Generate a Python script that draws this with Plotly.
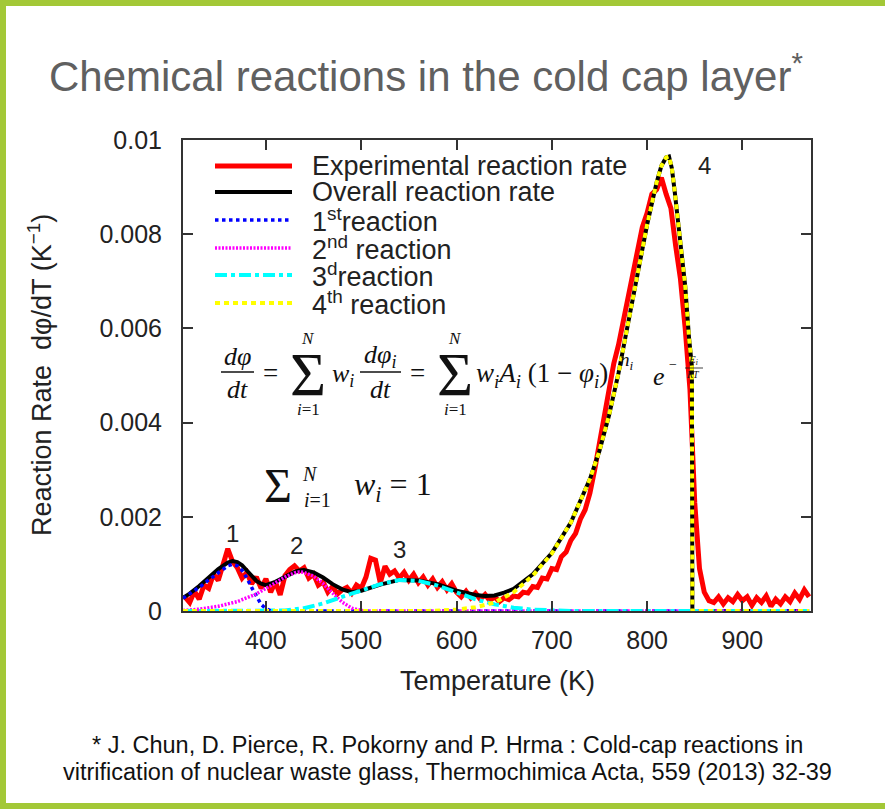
import plotly.graph_objects as go

# ---------------- data ----------------
T_exp = [315, 320, 325, 330, 335, 340, 345, 350, 355, 360, 365, 370, 375, 380, 385, 390, 395, 400,
         405, 410, 415, 420, 425, 430, 435, 440, 445, 450, 455, 460, 465, 470, 475, 480, 485, 490,
         495, 500, 505, 510, 515, 520, 525, 530, 535, 540, 545, 550, 555, 560, 565, 570, 575, 580,
         585, 590, 595, 600, 605, 610, 615, 620, 625, 630, 635, 640, 645, 650, 655, 660, 665, 670,
         675, 680, 685, 690, 695, 700, 705, 710, 715, 720, 725, 730, 735, 740, 745, 750, 755, 760,
         765, 770, 775, 780, 785, 790, 795, 800, 805, 810, 815, 820, 825, 830, 835, 840, 845, 850,
         855, 860, 865, 870, 875, 880, 885, 890, 895, 900, 905, 910, 915, 920, 925, 930, 935, 940,
         945, 950, 955, 960, 965, 970]
V_exp = [0.00030, 0.00018, 0.00042, 0.00025, 0.00055, 0.00048, 0.00078, 0.00065, 0.00098, 0.00132,
         0.00105, 0.00092, 0.00070, 0.00082, 0.00058, 0.00072, 0.00048, 0.00068, 0.00040, 0.00062,
         0.00034, 0.00075, 0.00088, 0.00096, 0.00085, 0.00092, 0.00070, 0.00078, 0.00055, 0.00062,
         0.00040, 0.00052, 0.00036, 0.00045, 0.00050, 0.00038, 0.00055, 0.00048, 0.00072, 0.00112,
         0.00108, 0.00060, 0.00095, 0.00078, 0.00085, 0.00070, 0.00082, 0.00065, 0.00078, 0.00060,
         0.00072, 0.00055, 0.00068, 0.00050, 0.00062, 0.00045, 0.00058, 0.00040, 0.00030, 0.00042,
         0.00028, 0.00038, 0.00025, 0.00035, 0.00022, 0.00030, 0.00020, 0.00028, 0.00024, 0.00032,
         0.00030, 0.00040, 0.00038, 0.00052, 0.00050, 0.00070, 0.00068, 0.00090, 0.00088, 0.00115,
         0.00125, 0.00150, 0.00165, 0.00195, 0.00215, 0.00250, 0.00300, 0.00360, 0.00420, 0.00470,
         0.00525, 0.00565, 0.00615, 0.00655, 0.00715, 0.00755, 0.00815, 0.00845, 0.00885, 0.00895,
         0.00920, 0.00885, 0.00855, 0.00775, 0.00705, 0.00600, 0.00470, 0.00230, 0.00090, 0.00040,
         0.00022, 0.00018, 0.00030, 0.00015, 0.00028, 0.00020, 0.00035, 0.00022, 0.00030, 0.00012,
         0.00028, 0.00018, 0.00032, 0.00010, 0.00025, 0.00015, 0.00030, 0.00020, 0.00038, 0.00025,
         0.00045, 0.00030]

T_all = [313, 320, 330, 340, 350, 360, 365, 370, 375, 380, 385, 390, 395, 400, 410, 420, 430, 435,
         440, 450, 460, 470, 480, 490, 500, 520, 540, 560, 580, 600, 620, 630, 640, 650, 660, 680,
         700, 720, 740, 750, 760, 770, 780, 790, 800, 805, 810, 815, 820, 823, 826, 829, 832, 835,
         840, 844, 847, 847.5, 970]
V_all = [0.00028, 0.00037, 0.00053, 0.00071, 0.00089, 0.00103, 0.00106, 0.00104, 0.00097, 0.00086,
         0.00074, 0.00064, 0.00058, 0.00055, 0.00062, 0.00073, 0.00083, 0.00086, 0.00087, 0.00082,
         0.00071, 0.00057, 0.00046, 0.00040, 0.00043, 0.00056, 0.00066, 0.00065, 0.00057, 0.00043,
         0.00034, 0.00032, 0.00033, 0.00039, 0.00047, 0.00078, 0.00123, 0.00188, 0.00280, 0.00340,
         0.00415, 0.00505, 0.00605, 0.00715, 0.00820, 0.00868, 0.00910, 0.00945, 0.00963, 0.00965,
         0.00940, 0.00890, 0.00840, 0.00790, 0.00690, 0.00580, 0.00520, 0.0, 0.0]

T_r1 = [313, 320, 330, 340, 350, 355, 360, 365, 370, 375, 380, 385, 390, 395, 400, 405, 410, 970]
V_r1 = [0.00027, 0.00036, 0.00050, 0.00066, 0.00082, 0.00090, 0.00096, 0.00099, 0.00096, 0.00086,
        0.00070, 0.00050, 0.00030, 0.00014, 0.00005, 0.00001, 0.0, 0.0]

T_r2 = [313, 330, 350, 370, 390, 400, 410, 420, 430, 435, 440, 450, 460, 470, 480, 490, 500, 510, 970]
V_r2 = [0.00001, 0.00004, 0.00010, 0.00020, 0.00036, 0.00047, 0.00060, 0.00072, 0.00081, 0.00083,
        0.00082, 0.00074, 0.00058, 0.00038, 0.00019, 0.00006, 0.00001, 0.0, 0.0]

T_r3 = [313, 420, 440, 460, 480, 500, 520, 540, 560, 580, 600, 620, 640, 660, 680, 700, 720, 970]
V_r3 = [0.0, 0.00001, 0.00006, 0.00016, 0.00030, 0.00044, 0.00057, 0.00066, 0.00064, 0.00054,
        0.00039, 0.00025, 0.00014, 0.00007, 0.00003, 0.00001, 0.0, 0.0]

T_r4 = [313, 570, 600, 620, 640, 660, 680, 700, 720, 740, 750, 760, 770, 780, 790, 800, 805, 810,
        815, 820, 823, 826, 829, 832, 835, 840, 844, 847, 847.5, 970]
V_r4 = [0.0, 0.0, 0.00003, 0.00008, 0.00018, 0.00040, 0.00075, 0.00122, 0.00188, 0.00280, 0.00340,
        0.00415, 0.00505, 0.00605, 0.00715, 0.00820, 0.00868, 0.00910, 0.00945, 0.00963, 0.00965,
        0.00940, 0.00890, 0.00840, 0.00790, 0.00690, 0.00580, 0.00520, 0.0, 0.0]

x_ticks = [400, 500, 600, 700, 800, 900]
y_ticks = [0, 0.002, 0.004, 0.006, 0.008, 0.01]
y_ticktext = ["0", "0.002", "0.004", "0.006", "0.008", "0.01"]

legend_names = ["Experimental reaction rate", "Overall reaction rate", "1<sup>st</sup>reaction",
                "2<sup>nd</sup> reaction", "3<sup>d</sup>reaction", "4<sup>th</sup> reaction"]

# ---------------- figure ----------------
W, H = 885, 809
L, R, T, B = 183, 811, 140, 611


def px(x):
    return (x - L) / (R - L)


def py(y):
    return (B - y) / (B - T)


styles = [
    dict(color="#ff0000", width=5, dash="solid"),
    dict(color="#000000", width=4, dash="solid"),
    dict(color="#0000ff", width=3.5, dash="dot"),
    dict(color="#ff00ff", width=3.5, dash="2px,1.5px"),
    dict(color="#00ffff", width=4, dash="dashdot"),
    dict(color="#ffff00", width=4, dash="5px,4px"),
]

fig = go.Figure()
fig.add_trace(go.Scatter(x=T_exp, y=V_exp, mode="lines", line=styles[0],
                         name=legend_names[0], showlegend=False))
fig.add_trace(go.Scatter(x=T_all, y=V_all, mode="lines", line=styles[1],
                         name=legend_names[1], showlegend=False))
fig.add_trace(go.Scatter(x=T_r1, y=V_r1, mode="lines", line=styles[2],
                         name=legend_names[2], showlegend=False))
fig.add_trace(go.Scatter(x=T_r2, y=V_r2, mode="lines", line=styles[3],
                         name=legend_names[3], showlegend=False))
fig.add_trace(go.Scatter(x=T_r3, y=V_r3, mode="lines", line=styles[4],
                         name=legend_names[4], showlegend=False))
fig.add_trace(go.Scatter(x=T_r4, y=V_r4, mode="lines", line=styles[5],
                         name=legend_names[5], showlegend=False))

shapes = []
annotations = []

# slide border
shapes.append(dict(type="rect", xref="paper", yref="paper", x0=px(3), x1=px(905), y0=py(3), y1=py(806),
                   line=dict(color="#a3c837", width=6), fillcolor="rgba(0,0,0,0)", layer="below"))

sans = "Liberation Sans, Arial"
serif = "Liberation Serif, Times New Roman"

# manual legend
leg_y = [166, 192, 220, 248, 275, 303]
for name, st, yy in zip(legend_names, styles, leg_y):
    shapes.append(dict(type="line", xref="paper", yref="paper", x0=px(215), x1=px(292), y0=py(yy), y1=py(yy),
                       line=dict(color=st["color"], width=st["width"], dash=st["dash"])))
    annotations.append(dict(xref="paper", yref="paper", x=px(310), y=py(yy), xanchor="left", yanchor="middle",
                            text=name, showarrow=False, font=dict(family=sans, size=27, color="#222")))


def ann(x, y, text, size, family=serif, xanchor="center", yanchor="middle", color="#111", angle=0):
    annotations.append(dict(xref="paper", yref="paper", x=px(x), y=py(y), xanchor=xanchor, yanchor=yanchor,
                            text=text, showarrow=False, textangle=angle,
                            font=dict(family=family, size=size, color=color)))


def bar(x0, x1, y, w=1.5):
    shapes.append(dict(type="line", xref="paper", yref="paper", x0=px(x0), x1=px(x1), y0=py(y), y1=py(y),
                       line=dict(color="#111", width=w)))


# title and footnote
ann(47, 73, "Chemical reactions in the cold cap layer<sup>*</sup>", 42, family=sans, xanchor="left",
    color="#606060")
ann(447, 745, "* J. Chun, D. Pierce, R. Pokorny and P. Hrma : Cold-cap reactions in", 23.5, family=sans,
    color="#111")
ann(447, 772, "vitrification of nuclear waste glass, Thermochimica Acta, 559 (2013) 32-39", 23.5,
    family=sans, color="#111")

# axis titles
ann(40, 375, "Reaction Rate  dφ/dT (K<sup>−1</sup>)", 27, family=sans, color="#222", angle=-90)
ann(497, 681, "Temperature (K)", 27, family=sans, color="#222")

# peak labels
ann(232, 533, "1", 24, family=sans, color="#222")
ann(296, 545, "2", 24, family=sans, color="#222")
ann(399, 549, "3", 24, family=sans, color="#222")
ann(704, 165, "4", 24, family=sans, color="#222")

# formula: dphi/dt = sum w_i dphi_i/dt = sum w_i A_i (1-phi_i)^n_i e^-E_i/RT
ann(237, 356, "<i>dφ</i>", 26)
bar(221, 254, 372)
ann(237, 389, "<i>dt</i>", 26)
ann(270, 373, "=", 27)
ann(308, 374, "Σ", 62)
ann(308, 338, "<i>N</i>", 17)
ann(308, 409, "<i>i</i>=1", 17)
ann(343, 375, "<i>w<sub>i</sub></i>", 26)
ann(380, 356, "<i>dφ<sub>i</sub></i>", 26)
bar(360, 401, 372)
ann(380, 389, "<i>dt</i>", 26)
ann(417, 373, "=", 27)
ann(455, 374, "Σ", 62)
ann(455, 338, "<i>N</i>", 17)
ann(455, 409, "<i>i</i>=1", 17)
ann(474, 375, "<i>w<sub>i</sub>A<sub>i</sub></i> (1 − <i>φ<sub>i</sub></i>)", 27, xanchor="left")
ann(627, 361, "<i>n<sub>i</sub></i>", 19)
ann(659, 376, "<i>e</i>", 26)
ann(673, 364, "−", 14)
ann(693, 360, "<i>E<sub>i</sub></i>", 11)
bar(685, 703, 368, 0.8)
ann(693, 374, "<i>RT</i>", 10)

# sum w_i = 1
ann(278, 485, "Σ", 48)
ann(310, 474, "<i>N</i>", 20)
ann(317, 500, "<i>i</i>=1", 20)
ann(352, 486, "<i>w<sub>i</sub></i> = 1", 32, xanchor="left")

axis_common = dict(showline=True, linecolor="#333", linewidth=2, mirror="allticks", ticks="inside",
                   ticklen=10, tickwidth=1.5, tickcolor="#333", showgrid=False, zeroline=False,
                   tickfont=dict(family=sans, size=25, color="#222"))

fig.update_layout(
    width=W, height=H,
    margin=dict(l=L, r=W - R, t=T, b=H - B),
    paper_bgcolor="white", plot_bgcolor="white",
    showlegend=False,
    xaxis=dict(range=[313, 972], tickvals=x_ticks, ticklabelstandoff=6, **axis_common),
    yaxis=dict(range=[0, 0.01], tickvals=y_ticks, ticktext=y_ticktext, ticklabelstandoff=14,
               **axis_common),
    shapes=shapes,
    annotations=annotations,
)

fig.write_html("out.html", config={"displayModeBar": False},
               post_script="document.body.style.margin='0px';document.body.style.overflow='hidden';")
